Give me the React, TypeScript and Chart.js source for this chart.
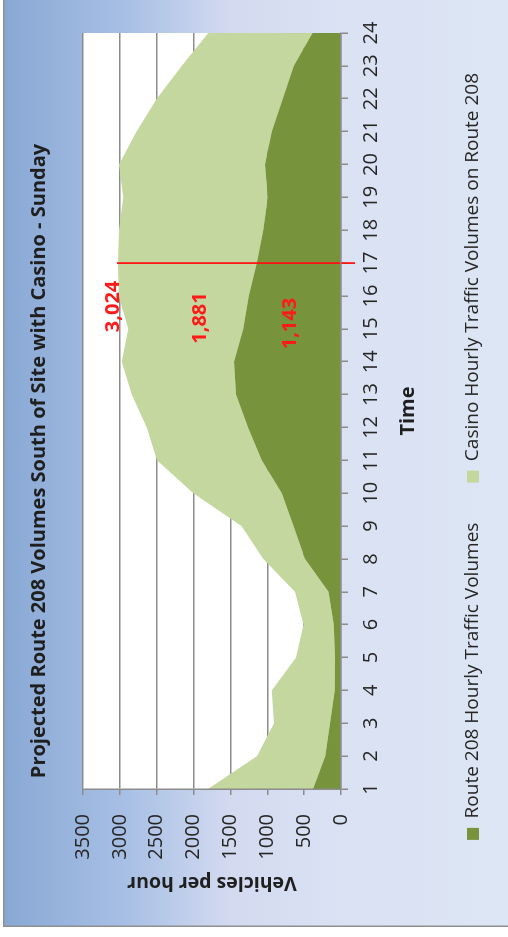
import React, { useEffect, useRef } from 'react';
import { Chart, registerables } from 'chart.js';

Chart.register(...registerables);

// hourly categories (Sunday)
const hours = ['1', '2', '3', '4', '5', '6', '7', '8', '9', '10', '11', '12',
  '13', '14', '15', '16', '17', '18', '19', '20', '21', '22', '23', '24'];

// vehicles per hour
const routeVolumes = [380, 215, 150, 85, 80, 100, 170, 490, 645, 805, 1075, 1260,
  1425, 1450, 1325, 1250, 1143, 1055, 995, 1030, 940, 790, 640, 385];
const casinoVolumes = [1425, 925, 760, 855, 530, 410, 455, 565, 705, 1200, 1420, 1375,
  1415, 1525, 1560, 1765, 1881, 1955, 1960, 1980, 1835, 1710, 1520, 1415];

const yMax = 3500;
const yStep = 500;

// peak hour call-out (hour 17)
const peakIndex = 16;
const peakTotal = routeVolumes[peakIndex] + casinoVolumes[peakIndex];
const peakTexts = [peakTotal, casinoVolumes[peakIndex], routeVolumes[peakIndex]]
  .map((v) => v.toLocaleString('en-US'));
// where each call-out sits, in data space (category index, vehicles)
const peakAnchors = [
  { index: 14.68, value: 3087 },
  { index: 14.33, value: 1913 },
  { index: 14.16, value: 685 },
];
const markerTop = 3040;
const markerBottom = -190;

const DARK_GREEN = '#77933c';
const LIGHT_GREEN = '#c4d79e';
const GRID = '#8c8c8c';
const FONT = "'Open Sans', sans-serif";

const backdrop = {
  id: 'backdrop',
  beforeDraw(chart: any) {
    const { ctx, width, height, chartArea } = chart;
    ctx.save();
    ctx.fillStyle = '#ffffff';
    ctx.fillRect(0, 0, width, height);
    const g = ctx.createLinearGradient(0, 3, 0, height);
    g.addColorStop(0, '#88a8d4');
    g.addColorStop(0.25, '#a9c0e5');
    g.addColorStop(0.45, '#d3daf0');
    g.addColorStop(0.65, '#d9e1f3');
    g.addColorStop(1, '#dde6f4');
    ctx.fillStyle = g;
    ctx.fillRect(10, 3, width - 10, height - 3);
    ctx.strokeStyle = '#8f8f8f';
    ctx.lineWidth = 1.5;
    ctx.beginPath();
    ctx.moveTo(10.75, height);
    ctx.lineTo(10.75, 3.75);
    ctx.lineTo(width, 3.75);
    ctx.stroke();
    ctx.fillStyle = '#ffffff';
    ctx.fillRect(chartArea.left, chartArea.top, chartArea.width, chartArea.height);
    ctx.restore();
  },
};

const peakMarker = {
  id: 'peakMarker',
  afterDatasetsDraw(chart: any) {
    const { ctx, scales: { x, y } } = chart;
    const px = x.getPixelForValue(peakIndex);
    ctx.save();
    ctx.strokeStyle = '#ff1010';
    ctx.lineWidth = 1.75;
    ctx.beginPath();
    ctx.moveTo(px, y.getPixelForValue(markerTop));
    ctx.lineTo(px, y.getPixelForValue(markerBottom));
    ctx.stroke();
    ctx.font = `bold 20px ${FONT}`;
    ctx.fillStyle = '#ff1a1a';
    ctx.textAlign = 'center';
    ctx.textBaseline = 'middle';
    peakTexts.forEach((t, i) => {
      const a = peakAnchors[i];
      ctx.fillText(t, x.getPixelForValue(a.index), y.getPixelForValue(a.value));
    });
    ctx.restore();
  },
};

export default function App() {
  const canvasRef = useRef<HTMLCanvasElement>(null);
  useEffect(() => {
    Chart.defaults.font.family = FONT;
    const chart = new Chart(canvasRef.current!, {
      type: 'line',
      data: {
        labels: hours,
        datasets: [
          {
            label: 'Route 208 Hourly Traffic Volumes',
            data: routeVolumes,
            backgroundColor: DARK_GREEN,
            borderColor: 'rgba(0,0,0,0)',
            borderWidth: 0,
            pointRadius: 0,
            fill: 'origin',
          },
          {
            label: 'Casino Hourly Traffic Volumes on Route 208',
            data: casinoVolumes,
            backgroundColor: LIGHT_GREEN,
            borderColor: 'rgba(0,0,0,0)',
            borderWidth: 0,
            pointRadius: 0,
            fill: '-1',
          },
        ],
      },
      options: {
        responsive: false,
        animation: false,
        events: [],
        layout: { padding: { left: 48, right: 33, top: 8, bottom: 15.5 } },
        plugins: {
          tooltip: { enabled: false },
          title: {
            display: true,
            text: 'Projected Route 208 Volumes South of Site with Casino - Sunday',
            color: '#1f1f1f',
            font: { size: 20, weight: 'bold', lineHeight: 1.2 },
            padding: { top: 19, bottom: 32 },
          },
          legend: {
            position: 'bottom',
            align: 'end',
            labels: {
              boxWidth: 12,
              boxHeight: 12,
              padding: 40,
              color: '#262626',
              font: { size: 19 },
            },
          },
        },
        scales: {
          x: {
            stacked: true,
            offset: false,
            grid: { drawOnChartArea: false, drawTicks: true, tickLength: 7, color: GRID, lineWidth: 1.5 },
            border: { display: true, color: GRID, width: 1.5, z: 1 },
            ticks: { color: '#262626', font: { size: 20 }, padding: 11, maxRotation: 0, autoSkip: false },
            title: {
              display: true,
              text: 'Time',
              color: '#1f1f1f',
              font: { size: 20, weight: 'bold', lineHeight: 1.2 },
              padding: { top: 0, bottom: 3.5 },
            },
            afterFit(scale: any) { scale.height = 82.5; },
          },
          y: {
            stacked: true,
            min: 0,
            max: yMax,
            grid: { color: GRID, lineWidth: 1.5, tickLength: 6 },
            border: { display: true, color: GRID, width: 1.5, z: 1 },
            ticks: { stepSize: yStep, color: '#262626', font: { size: 20 }, padding: 19, callback: (v: any) => String(v) },
            title: {
              display: true,
              text: 'Vehicles per hour',
              color: '#1f1f1f',
              font: { size: 19.5, weight: 'bold', lineHeight: 1.2 },
              padding: { top: -5, bottom: 0 },
            },
            afterFit(scale: any) { scale.width = 100; },
          },
        },
      },
      plugins: [backdrop, peakMarker],
    });
    return () => chart.destroy();
  }, []);
  return (
    <div style={{ position: 'absolute', left: 0, top: 0, width: 508, height: 937, overflow: 'hidden' }}>
      <div
        style={{
          position: 'absolute', left: 0, top: 0, width: 937, height: 508,
          transformOrigin: '0 0', transform: 'translate(0px, 937px) rotate(-90deg)',
        }}
      >
        <canvas ref={canvasRef} width={937} height={508} />
      </div>
    </div>
  );
}
